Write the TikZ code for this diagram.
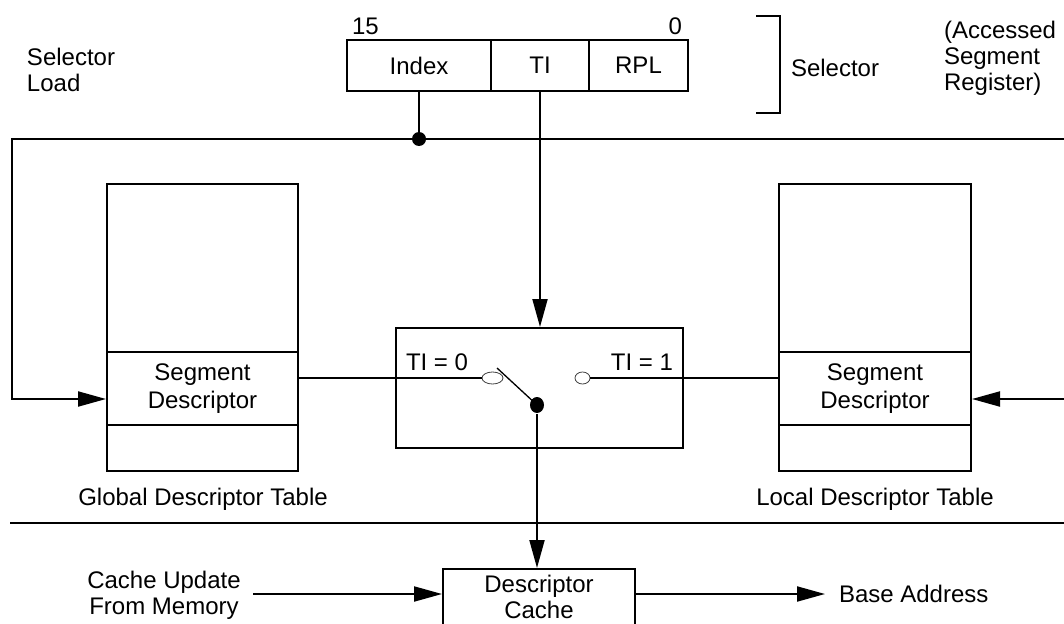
\documentclass[tikz,border=0pt]{standalone}
\usepackage{fontspec}
\setmainfont{Liberation Sans}
\usetikzlibrary{arrows.meta,shapes.geometric}
\begin{document}
\begin{tikzpicture}[x=1pt,y=-1pt, line width=2pt,
  font=\fontsize{24}{26}\selectfont,
  >={Triangle[length=28pt,width=15pt]},
  cell/.style={draw, rectangle, inner sep=0pt, align=center},
  txt/.style={inner sep=0pt, align=center},
  jdot/.style={circle, fill, inner sep=0pt, minimum size=14pt},
  ring/.style={ellipse, draw=black!75, line width=0.8pt, inner sep=0pt}]
\useasboundingbox (0,0) rectangle (1064,623);
\clip (0,0) rectangle (1064,623);

% selector register
\node[cell, minimum width=144pt, minimum height=51pt] (idx) at (419,65.5) {Index};
\node[cell, minimum width=98pt, minimum height=51pt] (ti) at (540,65.5) {TI};
\node[cell, minimum width=99pt, minimum height=51pt] (rpl) at (638.5,65.5) {RPL};
\node[txt, anchor=west] (b15) at (351,26) {15};
\node[txt, anchor=east] (b0) at (683,26) {0};

% bracket
\coordinate (brT) at (756,16);
\coordinate (brB) at (756,113);
\draw (brT) -- ++(24,0) -- ++(0,97) -- (brB);
\node[txt, anchor=west] (selr) at (790,68) {Selector};
\node[txt, anchor=west, align=left] (asr) at (943,58) {(Accessed\\Segment\\Register)};
\node[txt, anchor=west, align=left] (sl) at (26,70) {Selector\\Load};

% GDT
\node[cell, minimum width=191pt, minimum height=168pt] (gtop) at (202.5,268) {};
\node[cell, minimum width=191pt, minimum height=73pt] (gsd) at (202.5,388.5) {Segment\\[2pt]Descriptor};
\node[cell, minimum width=191pt, minimum height=46pt] (gbot) at (202.5,448) {};
\node[txt] (gl) at (203,499) {Global Descriptor Table};

% LDT
\node[cell, minimum width=192pt, minimum height=168pt] (ltop) at (875,268) {};
\node[cell, minimum width=192pt, minimum height=73pt] (lsd) at (875,388.5) {Segment\\[2pt]Descriptor};
\node[cell, minimum width=192pt, minimum height=46pt] (lbot) at (875,448) {};
\node[txt] (ll) at (875,499) {Local Descriptor Table};

% switch
\node[draw, rectangle, minimum width=287pt, minimum height=120pt, inner sep=0pt] (sw) at (539.5,388) {};
\node[txt, anchor=west] (t0) at (405,362) {TI = 0};
\node[txt, anchor=east] (t1) at (674,362) {TI = 1};
\node[ring, minimum width=21pt, minimum height=12pt] (e0) at (492.5,378) {};
\node[ring, minimum width=15pt, minimum height=12pt] (e1) at (582.5,378) {};
\node[ellipse, fill, inner sep=0pt, minimum width=14pt, minimum height=16pt] (pd) at (537,405) {};
\coordinate (lev) at (497,368);
\draw[line width=1.3pt] (lev) -- (pd.center);

% cache
\node[cell, minimum width=192pt, minimum height=56pt] (cache) at (539,597) {Descriptor\\Cache};
\node[txt] (cu) at (164,595) {Cache Update\\From Memory};
\node[txt, anchor=west] (ba) at (838,594) {Base Address};

% bus and connectors
\coordinate (busL) at (12,139);
\coordinate (busR) at (1064,139);
\draw[->] (busR) -- (busL) |- ([yshift=-10.5pt]gsd.west);
\node[jdot] (jn) at (idx.south |- busL) {};
\draw (idx.south) -- (jn.center);
\draw[->] (ti.south) -- (ti.south |- sw.north);
\draw ([yshift=10.5pt]gsd.east) -- (e0.west);
\draw (e1.east) -- ([yshift=10.5pt]lsd.west);
\coordinate (rin) at (1064,399);
\draw[->] (rin) -- (rin -| lsd.east);
\draw[->] (pd.south) -- (pd.south |- cache.north);
\coordinate (sepL) at (10,523);
\coordinate (sepR) at (1064,523);
\draw (sepL) -- (sepR);
\coordinate (cuS) at (253,594);
\draw[->] (cuS) -- (cuS -| cache.west);
\draw[->] (cache.east |- ba.west) -- ([xshift=-13pt]ba.west);
\end{tikzpicture}
\end{document}
